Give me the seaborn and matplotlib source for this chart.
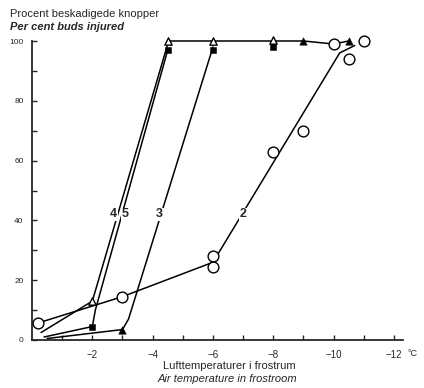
import matplotlib
matplotlib.use("Agg")
import matplotlib.pyplot as plt
import seaborn as sns
import pandas as pd

# ---- data ----
circle_x = [-0.2, -3.0, -6.0, -6.0, -8.0, -9.0, -10.0, -10.5, -11.0]
circle_y = [5.7, 14.4, 28.0, 24.5, 63.0, 70.0, 99.0, 94.0, 100.0]
otri_x = [-2.0, -4.5, -6.0, -8.0]
otri_y = [13.0, 100.0, 100.0, 100.5]
fsq_x = [-2.0, -4.5, -6.0, -8.0]
fsq_y = [4.4, 97.0, 97.0, 98.0]
ftri_x = [-3.0, -9.0, -10.5]
ftri_y = [3.5, 100.0, 100.0]

curve2_x = [-0.3, -3.0, -6.0, -10.2, -10.7]
curve2_y = [6.0, 14.5, 26.0, 96.0, 98.5]
curve3_x = [-0.5, -3.0, -3.2, -6.0]
curve3_y = [0.5, 3.5, 7.0, 98.0]
curve4_x = [-0.3, -2.0, -4.5]
curve4_y = [2.5, 13.0, 99.0]
curve5_x = [-0.4, -2.0, -2.1, -4.5]
curve5_y = [1.0, 4.5, 10.0, 97.0]
top_x = [-4.5, -6.0, -8.0, -9.0, -10.0, -10.5]
top_y = [100.0, 100.0, 100.0, 100.0, 99.0, 100.0]

curve_labels = ["4", "5", "3", "2"]
label_x = [-2.7, -3.1, -4.23, -7.0]
label_y = [42.0, 42.0, 42.0, 42.0]

xticks = [-1, -2, -3, -4, -5, -6, -7, -8, -9, -10, -11, -12]
xtick_labels = ["", "\u22122", "", "\u22124", "", "\u22126", "", "\u22128", "", "\u221210", "", "\u221212"]
yticks = [0, 20, 40, 60, 80, 100]

# ---- figure ----
sns.set_style("ticks")
plt.rcParams["font.family"] = ["Liberation Sans", "DejaVu Sans"]

fig = plt.figure(figsize=(4.24, 3.88), dpi=100)
ax = fig.add_axes([32 / 424, 1 - 340 / 388, (403 - 32) / 424, (340 - 41) / 388])

lw = 1.1
for cx, cy in [(curve2_x, curve2_y), (curve3_x, curve3_y), (curve4_x, curve4_y),
               (curve5_x, curve5_y), (top_x, top_y)]:
    d = pd.DataFrame({"x": cx, "y": cy})
    sns.lineplot(data=d, x="x", y="y", sort=False, estimator=None, color="black",
                 lw=lw, ax=ax, zorder=2)
for ln in ax.lines:
    ln.set_clip_on(False)

sns.scatterplot(x=circle_x, y=circle_y, marker="o", s=60, facecolor="white",
                edgecolor="black", linewidth=1.0, ax=ax, zorder=4, clip_on=False)
sns.scatterplot(x=otri_x, y=otri_y, marker="^", s=28, facecolor="white",
                edgecolor="black", linewidth=1.0, ax=ax, zorder=5, clip_on=False)
sns.scatterplot(x=fsq_x, y=fsq_y, marker="s", s=22, color="black",
                edgecolor="black", ax=ax, zorder=5, clip_on=False)
sns.scatterplot(x=ftri_x, y=ftri_y, marker="^", s=28, color="black",
                edgecolor="black", ax=ax, zorder=5, clip_on=False)

for t, x, y in zip(curve_labels, label_x, label_y):
    ax.text(x, y, t, ha="center", va="center", fontsize=9, fontweight="bold",
            zorder=6, bbox=dict(facecolor="white", edgecolor="none", pad=0.5))

ax.set_xlim(0, -12.3)
ax.set_ylim(0, 100)
ax.set_xticks(xticks)
ax.set_xticklabels(xtick_labels, fontsize=7)
ax.set_yticks(yticks)
ax.set_yticklabels([str(v) for v in yticks], fontsize=6)
ax.set_yticks([10, 30, 50, 70, 90], minor=True)
ax.tick_params(axis="both", which="both", direction="in", length=3.5, width=1.0)
ax.tick_params(axis="x", pad=7)
ax.tick_params(axis="y", pad=6)
sns.despine(ax=ax)
for s in ["left", "bottom"]:
    ax.spines[s].set_linewidth(1.3)
ax.set_xlabel("")
ax.set_ylabel("")

fig.text(10 / 424, 1 - 14 / 388, "Procent beskadigede knopper", fontsize=8, va="center")
fig.text(10 / 424, 1 - 27 / 388, "Per cent buds injured", fontsize=8, style="italic",
         fontweight="bold", va="center")
fig.text(229 / 424, 1 - 366 / 388, "Lufttemperaturer i frostrum", fontsize=8,
         ha="center", va="center")
fig.text(227 / 424, 1 - 379 / 388, "Air temperature in frostroom", fontsize=8,
         style="italic", ha="center", va="center")
fig.text(413 / 424, 1 - 354 / 388, "\u00b0C", fontsize=6.5, ha="center", va="center")

fig.savefig("out.png", dpi=100)
